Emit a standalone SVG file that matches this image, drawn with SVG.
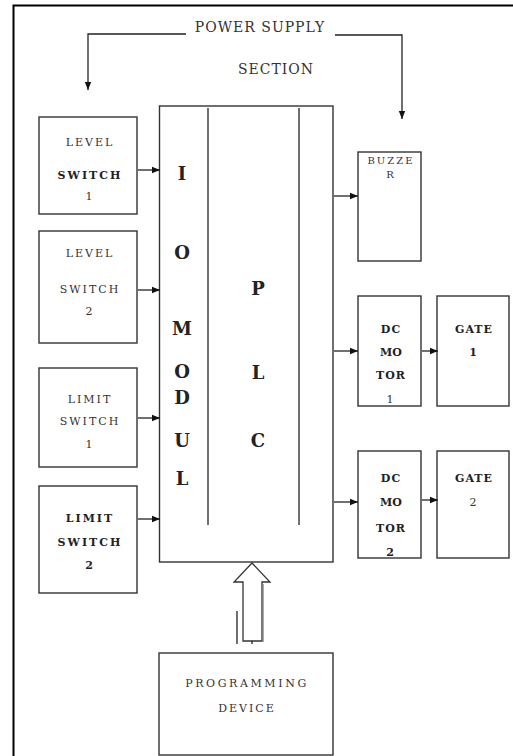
<svg xmlns="http://www.w3.org/2000/svg" width="513" height="756" viewBox="0 0 513 756">
<defs>
<marker id="ah" viewBox="0 0 10 10" refX="10" refY="5" markerWidth="8" markerHeight="8" markerUnits="userSpaceOnUse" orient="auto">
<path d="M0,1 L10,5 L0,9 Z" fill="#111"/>
</marker>
</defs>
<style>
.box{fill:#fff;stroke:#333;stroke-width:1.4}
.ln{fill:none;stroke:#222;stroke-width:1.3}
.t{font-family:"DejaVu Serif","Liberation Serif",serif;font-size:11px;fill:#333;text-anchor:middle;letter-spacing:2px}
.b{font-weight:bold;fill:#222}
.big{font-family:"DejaVu Serif","Liberation Serif",serif;font-size:18px;font-weight:bold;fill:#222;text-anchor:middle}
.ps{font-family:"DejaVu Serif","Liberation Serif",serif;font-size:14px;fill:#333;text-anchor:middle;letter-spacing:1px}
</style>
<rect width="513" height="756" fill="#fff"/>
<path d="M13.5,760 V5.5 H520" fill="none" stroke="#000" stroke-width="2"/>

<g id="power-supply">
<text class="ps" x="260" y="32">POWER SUPPLY</text>
<text class="ps" x="276" y="74">SECTION</text>
</g>

<g id="plc">
<rect class="box" x="159.5" y="106" width="173.5" height="456"/>
<line class="ln" x1="208" y1="108" x2="208" y2="525"/>
<line class="ln" x1="299" y1="108" x2="299" y2="525"/>
<text class="big" x="182" y="180">I</text>
<text class="big" x="182" y="259">O</text>
<text class="big" x="182" y="335">M</text>
<text class="big" x="182" y="378">O</text>
<text class="big" x="182" y="404">D</text>
<text class="big" x="182" y="447">U</text>
<text class="big" x="182" y="485">L</text>
<text class="big" x="258" y="295">P</text>
<text class="big" x="258" y="379">L</text>
<text class="big" x="258" y="447">C</text>
</g>

<g id="level-switch-1">
<rect class="box" x="39" y="117" width="98" height="97"/>
<text class="t" x="90" y="146">LEVEL</text>
<text class="t b" x="90" y="179">SWITCH</text>
<text class="t" x="90" y="200">1</text>
</g>
<g id="level-switch-2">
<rect class="box" x="39" y="231" width="98" height="112"/>
<text class="t" x="90" y="257">LEVEL</text>
<text class="t" x="90" y="293">SWITCH</text>
<text class="t" x="90" y="315">2</text>
</g>
<g id="limit-switch-1">
<rect class="box" x="39" y="368" width="98" height="99"/>
<text class="t" x="90" y="403">LIMIT</text>
<text class="t" x="90" y="425">SWITCH</text>
<text class="t" x="90" y="448">1</text>
</g>
<g id="limit-switch-2">
<rect class="box" x="39" y="486" width="98" height="107"/>
<text class="t b" x="90" y="522">LIMIT</text>
<text class="t b" x="90" y="546">SWITCH</text>
<text class="t b" x="90" y="569">2</text>
</g>

<g id="buzzer">
<rect class="box" x="358" y="152" width="63" height="109"/>
<text class="t" x="391" y="164" style="font-size:10px">BUZZE</text>
<text class="t" x="391" y="178" style="font-size:10px">R</text>
</g>
<g id="dc-motor-1">
<rect class="box" x="358" y="296" width="63" height="110"/>
<text class="t b" x="391" y="333" style="letter-spacing:1px">DC</text>
<text class="t b" x="391" y="356" style="letter-spacing:0px">MO</text>
<text class="t b" x="391" y="379" style="letter-spacing:1px">TOR</text>
<text class="t" x="391" y="403">1</text>
</g>
<g id="gate-1">
<rect class="box" x="437" y="296" width="72" height="110"/>
<text class="t b" x="474" y="333" style="letter-spacing:1px">GATE</text>
<text class="t b" x="474" y="356">1</text>
</g>
<g id="dc-motor-2">
<rect class="box" x="358" y="451" width="63" height="107"/>
<text class="t b" x="391" y="482" style="letter-spacing:1px">DC</text>
<text class="t b" x="391" y="506" style="letter-spacing:0px">MO</text>
<text class="t b" x="391" y="532" style="letter-spacing:1px">TOR</text>
<text class="t b" x="391" y="556">2</text>
</g>
<g id="gate-2">
<rect class="box" x="437" y="451" width="72" height="107"/>
<text class="t b" x="474" y="482" style="letter-spacing:1px">GATE</text>
<text class="t" x="474" y="506">2</text>
</g>

<g id="programming-device">
<rect class="box" x="159" y="653" width="174" height="102"/>
<text class="t" x="247" y="687" style="letter-spacing:2.6px">PROGRAMMING</text>
<text class="t" x="247" y="712">DEVICE</text>
</g>

<g id="connectors">
<path class="ln" d="M186,34 H88 V90" marker-end="url(#ah)"/>
<path class="ln" d="M335,35 H402 V119" marker-end="url(#ah)"/>
<line class="ln" x1="138" y1="170" x2="160" y2="170" marker-end="url(#ah)"/>
<line class="ln" x1="138" y1="290" x2="160" y2="290" marker-end="url(#ah)"/>
<line class="ln" x1="138" y1="418" x2="160" y2="418" marker-end="url(#ah)"/>
<line class="ln" x1="138" y1="519" x2="160" y2="519" marker-end="url(#ah)"/>
<line class="ln" x1="334" y1="196" x2="358" y2="196" marker-end="url(#ah)"/>
<line class="ln" x1="334" y1="351" x2="358" y2="351" marker-end="url(#ah)"/>
<line class="ln" x1="334" y1="502" x2="358" y2="502" marker-end="url(#ah)"/>
<line class="ln" x1="422" y1="351" x2="438" y2="351" marker-end="url(#ah)"/>
<line class="ln" x1="422" y1="500" x2="438" y2="500" marker-end="url(#ah)"/>
<path d="M252,563 L270,582 L262,582 L262,641 L243,641 L243,582 L234,582 Z" fill="#fff" stroke="#333" stroke-width="1.3"/>
<line x1="263.5" y1="584" x2="263.5" y2="642" stroke="#aaa" stroke-width="1"/>
<line class="ln" x1="237" y1="611" x2="237" y2="644"/>
<line class="ln" x1="252" y1="641" x2="252" y2="644"/>
</g>
</svg>
